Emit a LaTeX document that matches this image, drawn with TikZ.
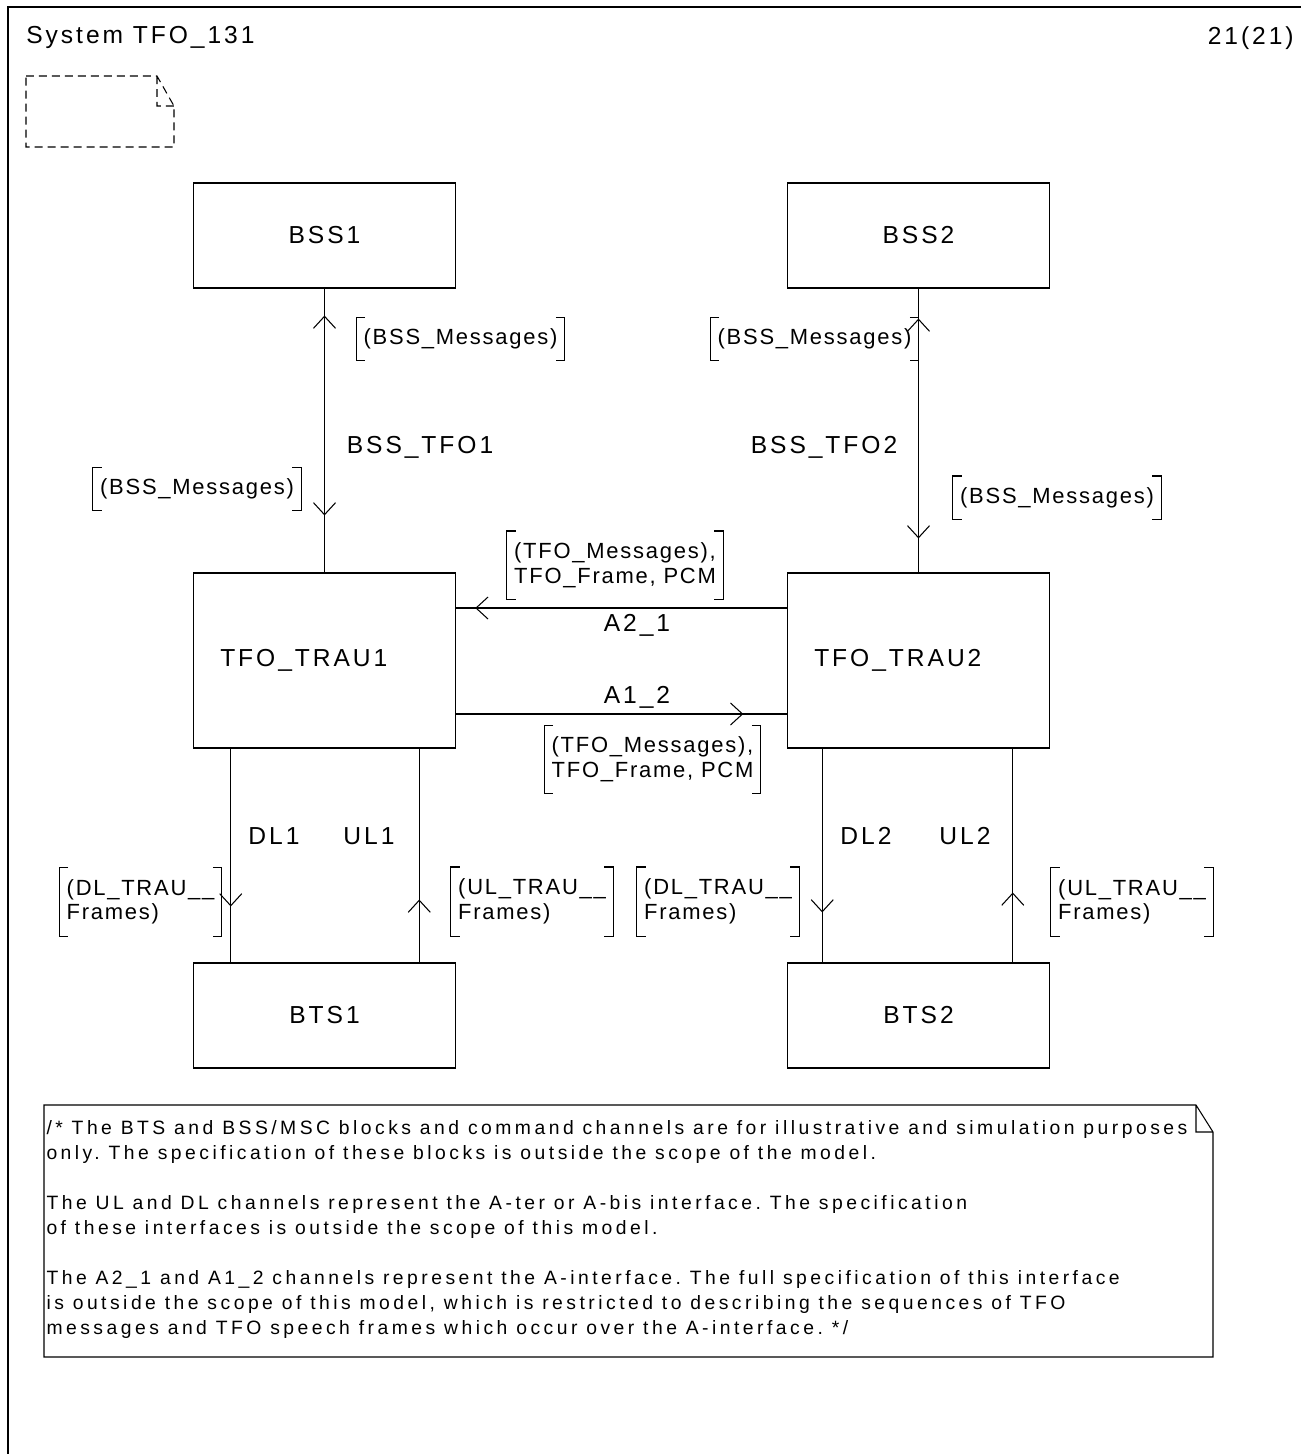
\documentclass[tikz,border=0pt]{standalone}
\usepackage{fontspec}
\setmainfont{Liberation Sans}
\newfontfamily\lblfont[LetterSpace=12]{Liberation Sans}
\newfontfamily\sigfont[LetterSpace=8]{Liberation Sans}
\newfontfamily\notefont[LetterSpace=18]{Liberation Sans}
\usetikzlibrary{arrows.meta,decorations.markings}
\frenchspacing

\tikzset{
  blk/.style={draw,minimum width=5.25cm,minimum height=#1,font=\lblfont\fontsize{14}{17}\selectfont},
  blk/.default=2.1cm,
  trau/.style={blk=3.5cm,text width=4.17cm,inner xsep=0.54cm,align=left},
  lbl/.style={font=\lblfont\fontsize{14}{17}\selectfont},
  sig/.style={align=left,inner xsep=0.14cm,inner ysep=0pt,minimum height=#1,font=\sigfont\fontsize{12.5}{14}\selectfont},
  sig/.default=0.84cm,
  tipat/.style={postaction={decorate,decoration={markings,mark=at position #1 with {\arrow{>}}}}},
  tipback/.style={postaction={decorate,decoration={markings,mark=at position #1 with {\arrowreversed{>}}}}},
}
\newcommand\sigbr[1]{\draw ([xshift=0.18cm]#1.north west) -- (#1.north west) -- (#1.south west) -- ([xshift=0.18cm]#1.south west)
  ([xshift=-0.18cm]#1.north east) -- (#1.north east) -- (#1.south east) -- ([xshift=-0.18cm]#1.south east);}

\begin{document}
\begin{tikzpicture}[x=0.02cm,y=-0.02cm,line width=0.6pt,>={Straight Barb[length=0.24cm,width=0.44cm]}]
  \useasboundingbox (0,0) rectangle (1301,1454);
  % frame and header
  \draw (8,1454) -- (8,7) -- (1301,7);
  \node[lbl,anchor=west] (sys) at (20,37) {System TFO\_131};
  \node[lbl,anchor=east] (page) at (1300,38) {21(21)};
  \draw[dashed,dash pattern=on 0.16cm off 0.1cm] (26,76) -- (157,76) -- (174,106) -- (174,147) -- (26,147) -- cycle
    (157,76) -- (157,106) -- (174,106);

  % blocks
  \node[blk] (bss1) at (324.5,235.5) {BSS1};
  \node[blk] (bss2) at (918.5,235.5) {BSS2};
  \node[trau] (trau1) at (324.5,660.5) {TFO\_TRAU1};
  \node[trau] (trau2) at (918.5,660.5) {TFO\_TRAU2};
  \node[blk] (bts1) at (324.5,1015.5) {BTS1};
  \node[blk] (bts2) at (918.5,1015.5) {BTS2};

  % channels
  \draw[tipat=4.54cm,tipback=0.54cm] (bss1.south) -- (trau1.north);
  \draw[tipat=5.0cm,tipback=0.6cm] (bss2.south) -- (trau2.north);
  \draw[tipat=-0.38cm] ([yshift=1.05cm]trau2.west) -- ([yshift=1.05cm]trau1.east);
  \draw[tipat=-0.87cm] ([yshift=-1.07cm]trau1.east) -- ([yshift=-1.07cm]trau2.west);
  \draw[tipat=3.16cm] ([xshift=0.76cm]trau1.south west) -- ([xshift=0.76cm]bts1.north west);
  \draw[tipat=1.26cm] ([xshift=-0.74cm]bts1.north east) -- ([xshift=-0.74cm]trau1.south east);
  \draw[tipat=3.28cm] ([xshift=0.71cm]trau2.south west) -- ([xshift=0.71cm]bts2.north west);
  \draw[tipat=1.4cm] ([xshift=-0.75cm]bts2.north east) -- ([xshift=-0.75cm]trau2.south east);

  % channel names
  \node[lbl] (c1) at (420,447) {BSS\_TFO1};
  \node[lbl] (c2) at (824,447) {BSS\_TFO2};
  \node[lbl] (a21) at (637,625) {A2\_1};
  \node[lbl] (a12) at (637,697) {A1\_2};
  \node[lbl] (dl1) at (274,836) {DL1};
  \node[lbl] (ul1) at (369,836) {UL1};
  \node[lbl] (dl2) at (866,836) {DL2};
  \node[lbl] (ul2) at (965,836) {UL2};

  % signal lists
  \node[sig] (s1) at (460.5,339) {(BSS\_Messages)};
  \node[sig] (s2) at (814.5,339) {(BSS\_Messages)};
  \node[sig] (s3) at (197,489) {(BSS\_Messages)};
  \node[sig] (s4) at (1057,497.5) {(BSS\_Messages)};
  \node[sig=1.34cm] (s5) at (615,565) {(TFO\_Messages),\\TFO\_Frame, PCM};
  \node[sig=1.34cm] (s6) at (652.5,759.5) {(TFO\_Messages),\\TFO\_Frame, PCM};
  \node[sig=1.36cm] (s7) at (140.5,902) {(DL\_TRAU\_\_\\Frames)};
  \node[sig=1.36cm] (s8) at (532,901.5) {(UL\_TRAU\_\_\\Frames)};
  \node[sig=1.36cm] (s9) at (718,901.5) {(DL\_TRAU\_\_\\Frames)};
  \node[sig=1.36cm] (s10) at (1132,902) {(UL\_TRAU\_\_\\Frames)};
  \foreach \s in {s1,s2,s3,s4,s5,s6,s7,s8,s9,s10} {\sigbr{\s}}

  % comment
  \draw (44,1105) -- (1196,1105) -- (1213,1132) -- (1213,1357) -- (44,1357) -- cycle
    (1196,1105) -- (1196,1132) -- (1213,1132);
  \node[anchor=north west,align=left,inner sep=0pt,font=\notefont\fontsize{11}{14.2}\selectfont] (note) at (46,1120)
    {/* The BTS and BSS/MSC blocks and command channels are for illustrative and simulation purposes\\
     only. The specification of these blocks is outside the scope of the model.\\[0.5cm]
     The UL and DL channels represent the A-ter or A-bis interface. The specification\\
     of these interfaces is outside the scope of this model.\\[0.5cm]
     The A2\_1 and A1\_2 channels represent the A-interface. The full specification of this interface\\
     is outside the scope of this model, which is restricted to describing the sequences of TFO\\
     messages and TFO speech frames which occur over the A-interface. */};
\end{tikzpicture}
\end{document}
